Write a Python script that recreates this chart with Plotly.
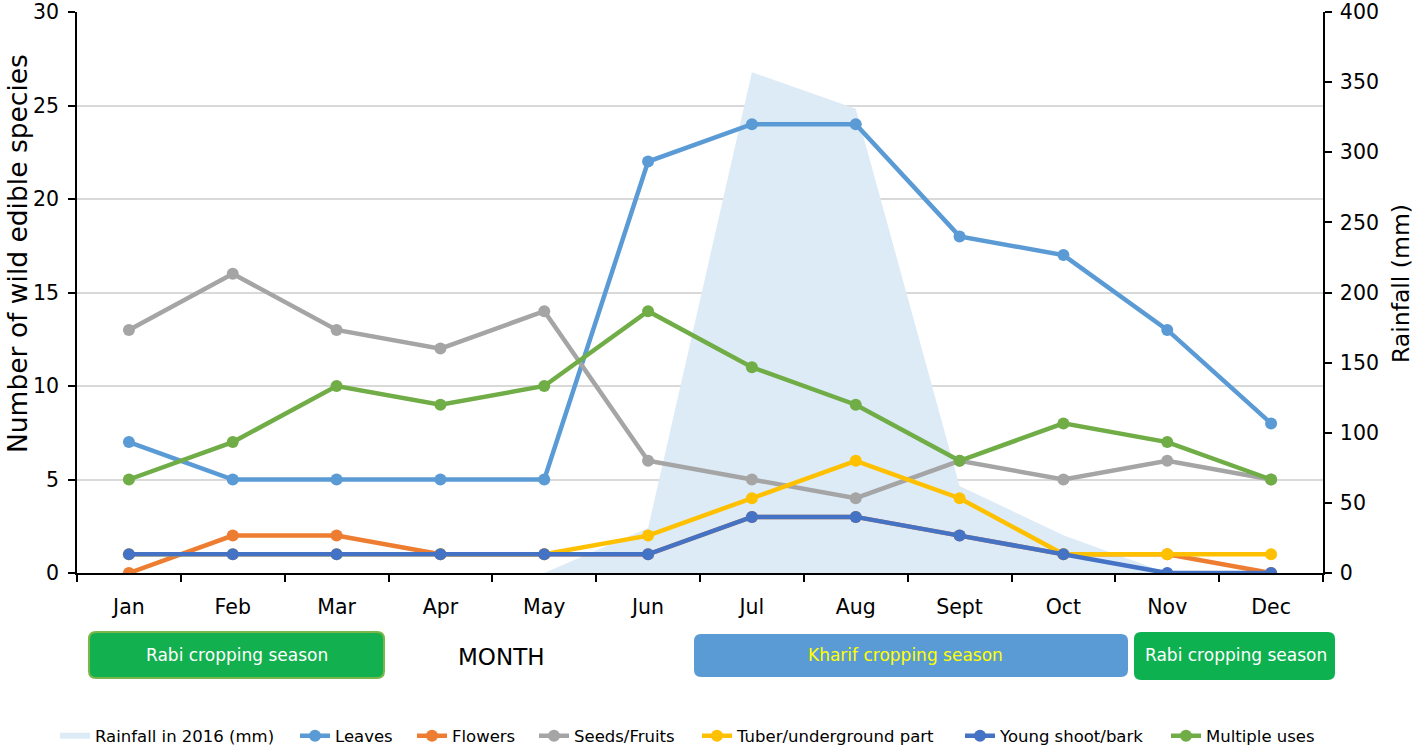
import plotly.graph_objects as go

months = ["Jan", "Feb", "Mar", "Apr", "May", "Jun", "Jul", "Aug", "Sept", "Oct", "Nov", "Dec"]
rainfall = [0, 0, 0, 0, 0, 32, 357, 331, 62, 27, 0, 0]
leaves = [7, 5, 5, 5, 5, 22, 24, 24, 18, 17, 13, 8]
flowers = [0, 2, 2, 1, 1, 1, 3, 3, 2, 1, 1, 0]
seeds = [13, 16, 13, 12, 14, 6, 5, 4, 6, 5, 6, 5]
tuber = [1, 1, 1, 1, 1, 2, 4, 6, 4, 1, 1, 1]
young = [1, 1, 1, 1, 1, 1, 3, 3, 2, 1, 0, 0]
multiple = [5, 7, 10, 9, 10, 14, 11, 9, 6, 8, 7, 5]

series = [
    ("Leaves", leaves, "#5B9BD5"),
    ("Flowers", flowers, "#ED7D31"),
    ("Seeds/Fruits", seeds, "#A5A5A5"),
    ("Tuber/underground part", tuber, "#FFC000"),
    ("Young shoot/bark", young, "#4472C4"),
    ("Multiple uses", multiple, "#70AD47"),
]

FONT = "DejaVu Sans"

# plot-area geometry (pixels) for placing layout items
L, R, T, B = 77, 1323, 12, 573
W, H = R - L, B - T


def px(x):
    return (x - L) / W


def py(y):
    return (B - y) / H


# left edge (pixels) of each legend entry's text
legend_text_x = [95, 335, 452, 574, 737, 1000, 1206]
LEG_Y = 736

fig = go.Figure()
fig.add_trace(go.Scatter(
    x=months, y=rainfall, name="Rainfall in 2016 (mm)", mode="none",
    fill="tozeroy", fillcolor="#DDEBF7", xaxis="x", yaxis="y", legend="legend",
))
for i, (name, vals, col) in enumerate(series):
    fig.add_trace(go.Scatter(
        x=months, y=vals, name=name, mode="lines+markers",
        line=dict(color=col, width=4.5), marker=dict(color=col, size=12),
        xaxis="x", yaxis="y2", legend=f"legend{i + 2}",
    ))


def rrect(x0, y0, x1, y1, r=7):
    ax0, ax1 = px(x0), px(x1)
    ay0, ay1 = py(y1), py(y0)
    rx, ry = r / W, r / H
    return (f"M {ax0+rx},{ay0} L {ax1-rx},{ay0} Q {ax1},{ay0} {ax1},{ay0+ry} "
            f"L {ax1},{ay1-ry} Q {ax1},{ay1} {ax1-rx},{ay1} L {ax0+rx},{ay1} "
            f"Q {ax0},{ay1} {ax0},{ay1-ry} L {ax0},{ay0+ry} Q {ax0},{ay0} {ax0+rx},{ay0} Z")


shapes = [
    dict(type="path", xref="paper", yref="paper", path=rrect(89, 632, 384, 678),
         fillcolor="#12B04F", line=dict(color="#7AB648", width=2), layer="above"),
    dict(type="path", xref="paper", yref="paper", path=rrect(694, 634, 1128, 677),
         fillcolor="#5B9BD5", line=dict(width=0), layer="above"),
    dict(type="path", xref="paper", yref="paper", path=rrect(1134, 632, 1335, 680),
         fillcolor="#0DB14F", line=dict(width=0), layer="above"),
]


def label(text, x, y, size, color, angle=0):
    return dict(text=text, x=px(x), y=py(y), xref="paper", yref="paper", xanchor="center",
                yanchor="middle", showarrow=False, textangle=angle,
                font=dict(family=FONT, size=size, color=color))


annotations = [
    label("Rabi cropping season", 237, 655, 17, "white"),
    label("MONTH", 501, 657, 23, "black"),
    label("Kharif cropping season", 905, 655, 17, "#FFFF00"),
    label("Rabi cropping season", 1236, 655, 17, "white"),
    label("Number of wild edible species", 17, 254, 26.5, "black", -90),
    label("Rainfall (mm)", 1401, 284, 23.5, "black", -90),
]

legends = {}
for i, tx in enumerate(legend_text_x):
    key = "legend" if i == 0 else f"legend{i + 1}"
    legends[key] = dict(orientation="h", x=px(tx - 40), xanchor="left", y=py(LEG_Y), yanchor="middle",
                        font=dict(family=FONT, size=16.5, color="black"), bgcolor="rgba(0,0,0,0)")

axis_common = dict(showline=True, linecolor="black", linewidth=1.5, ticks="outside", ticklen=7,
                   tickcolor="black", tickwidth=1.5, tickfont=dict(family=FONT, size=20.5))

fig.update_layout(
    width=1418, height=747,
    margin=dict(l=L, r=1418 - R, t=T, b=747 - B, autoexpand=False),
    paper_bgcolor="white", plot_bgcolor="white",
    font=dict(family=FONT, size=18, color="black"),
    showlegend=True,
    xaxis=dict(type="category", range=[-0.5, 11.5], tickson="boundaries", showgrid=False,
               fixedrange=True, ticklabelstandoff=15, **axis_common),
    yaxis=dict(side="right", range=[0, 400], dtick=50, showgrid=False, zeroline=False,
               ticklabeloverflow="allow", ticklabelstandoff=4, **axis_common),
    yaxis2=dict(side="left", overlaying="y", range=[0, 30], dtick=5, showgrid=True,
                gridcolor="#D9D9D9", gridwidth=1.5, zeroline=False, ticklabeloverflow="allow",
                ticklabelstandoff=5, **axis_common),
    shapes=shapes, annotations=annotations,
    **legends,
)

fig.write_html("out.html", config={"displayModeBar": False},
               post_script="document.body.style.margin='0';")
